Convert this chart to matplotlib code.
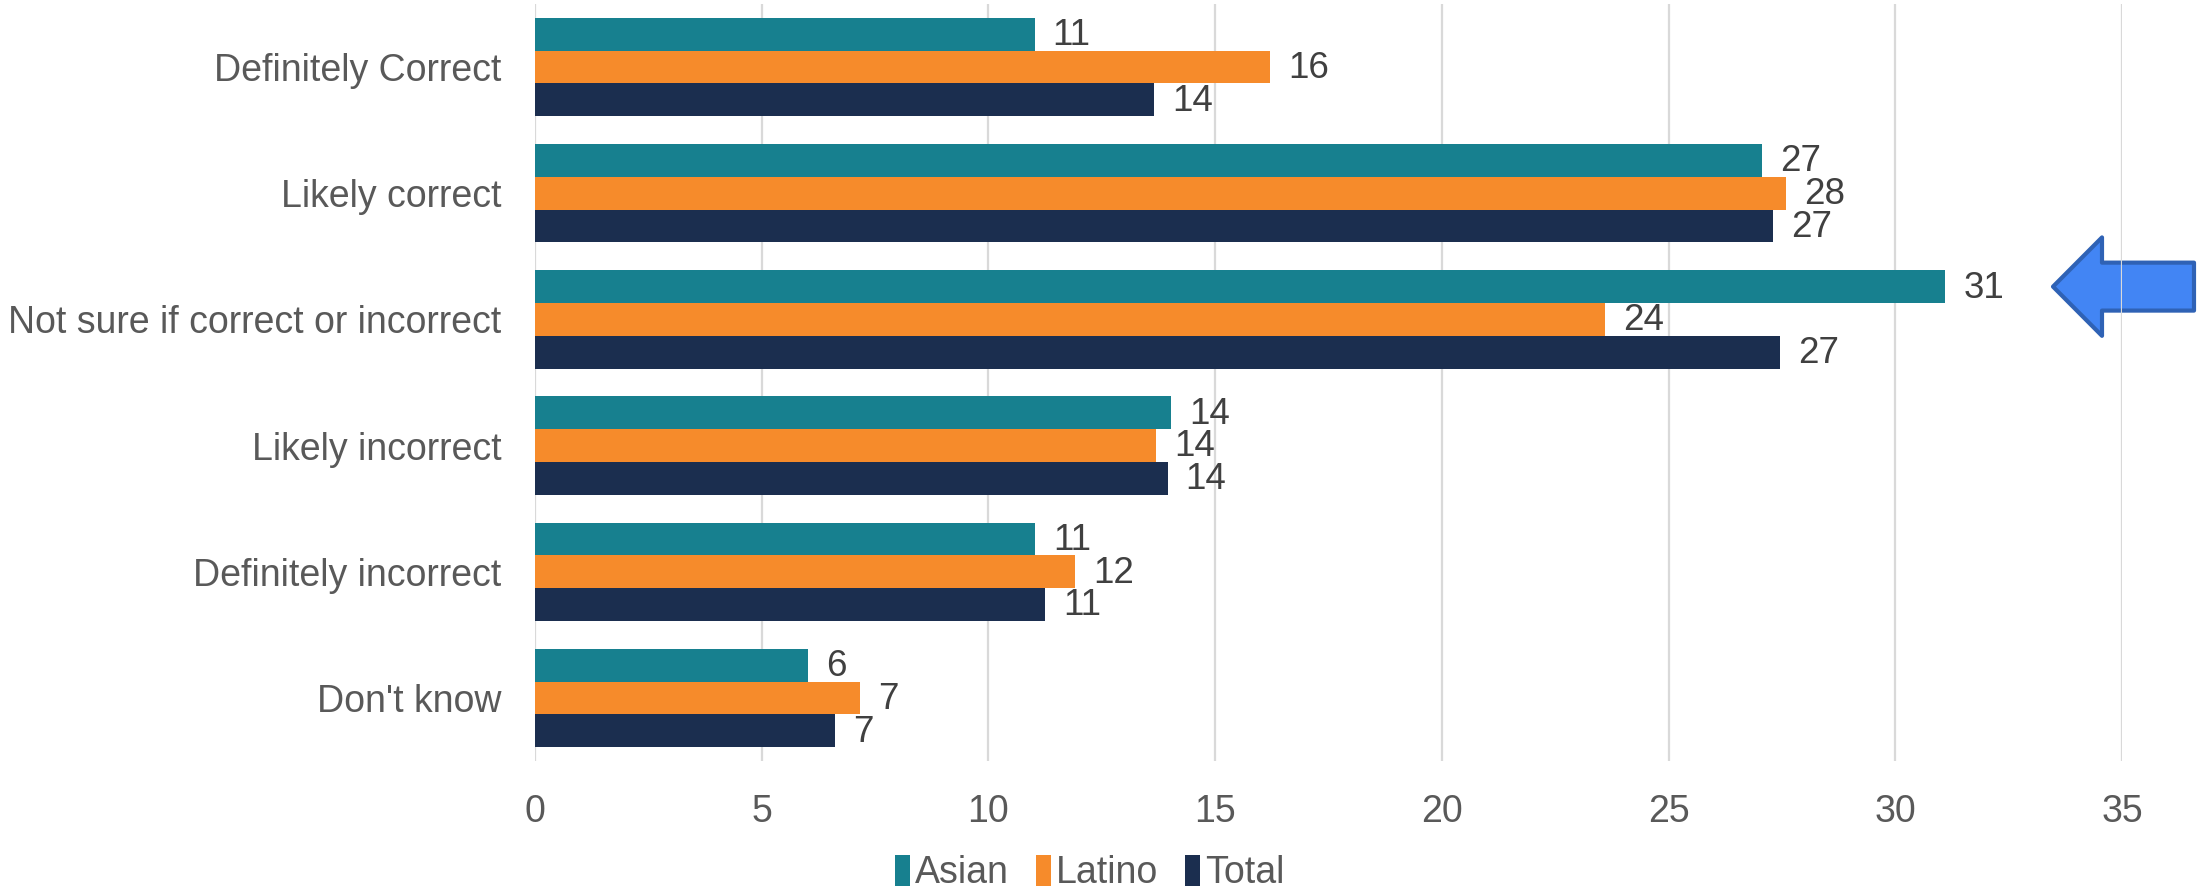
import matplotlib.pyplot as plt
import matplotlib.transforms as mtransforms
from matplotlib.patches import Polygon
import numpy as np

plt.rcParams['font.family'] = ['Liberation Sans', 'DejaVu Sans']

# 数据
categories = ["Definitely Correct", "Likely correct", "Not sure if correct or incorrect",
              "Likely incorrect", "Definitely incorrect", "Don't know"]
asian = [11.02, 27.07, 31.10, 14.02, 11.03, 6.02]
latino = [16.22, 27.60, 23.60, 13.69, 11.91, 7.17]
total = [13.65, 27.30, 27.45, 13.95, 11.25, 6.61]
series_names = ["Asian", "Latino", "Total"]
colors = ["#17808F", "#F68B2B", "#1B2E4F"]
xticks = [0, 5, 10, 15, 20, 25, 30, 35]

W, H = 2197, 888
fig = plt.figure(figsize=(W / 100, H / 100), dpi=100)
ax = fig.add_axes([535 / W, 0.143, (2122 - 535) / W, 0.8525])

y = np.arange(len(categories))
bar_h = 0.26
for k, (vals, name, col) in enumerate(zip([asian, latino, total], series_names, colors)):
    pos = y + (k - 1) * bar_h
    ax.barh(pos, vals, height=bar_h, color=col, label=name, zorder=2)
    for p, v in zip(pos, vals):
        ax.annotate(f"{v:.0f}", (v, p), xytext=(13, -1), textcoords="offset points",
                    va="center", ha="left", fontsize=26.5, color="#404040")

ax.set_xlim(0, 35)
ax.set_ylim(len(categories) - 0.5, -0.5)
ax.set_yticks(y)
ax.set_yticklabels(categories)
ax.set_xticks(xticks)
ax.tick_params(axis="both", length=0, labelsize=27, labelcolor="#595959")
ax.tick_params(axis="y", pad=24)
ax.tick_params(axis="x", pad=24)
ax.set_axisbelow(True)
ax.xaxis.grid(True, color="#D9D9D9", linewidth=1.6, zorder=0.5)
for s in ax.spines.values():
    s.set_visible(False)

# 指向 Asian "Not sure" 条的箭头（x 用画布像素比例，y 用数据坐标）
trans = mtransforms.blended_transform_factory(fig.transFigure, ax.transData)
cy = 2 - bar_h
head, body = 0.39, 0.19
pts = [(2053 / W, cy), (2102 / W, cy - head), (2102 / W, cy - body), (2194 / W, cy - body),
       (2194 / W, cy + body), (2102 / W, cy + body), (2102 / W, cy + head)]
arrow = Polygon(pts, closed=True, transform=trans, facecolor="#4285F4", edgecolor="#2F62B5",
                linewidth=3, joinstyle="round", clip_on=False, zorder=0.3)
ax.add_patch(arrow)

fig.legend(loc="center", bbox_to_anchor=(0.496, 0.017), ncol=3, frameon=False,
           fontsize=27, labelcolor="#595959", handlelength=0.4, handleheight=0.9,
           handletextpad=0.15, columnspacing=0.7)

fig.savefig("out.png", dpi=100)
